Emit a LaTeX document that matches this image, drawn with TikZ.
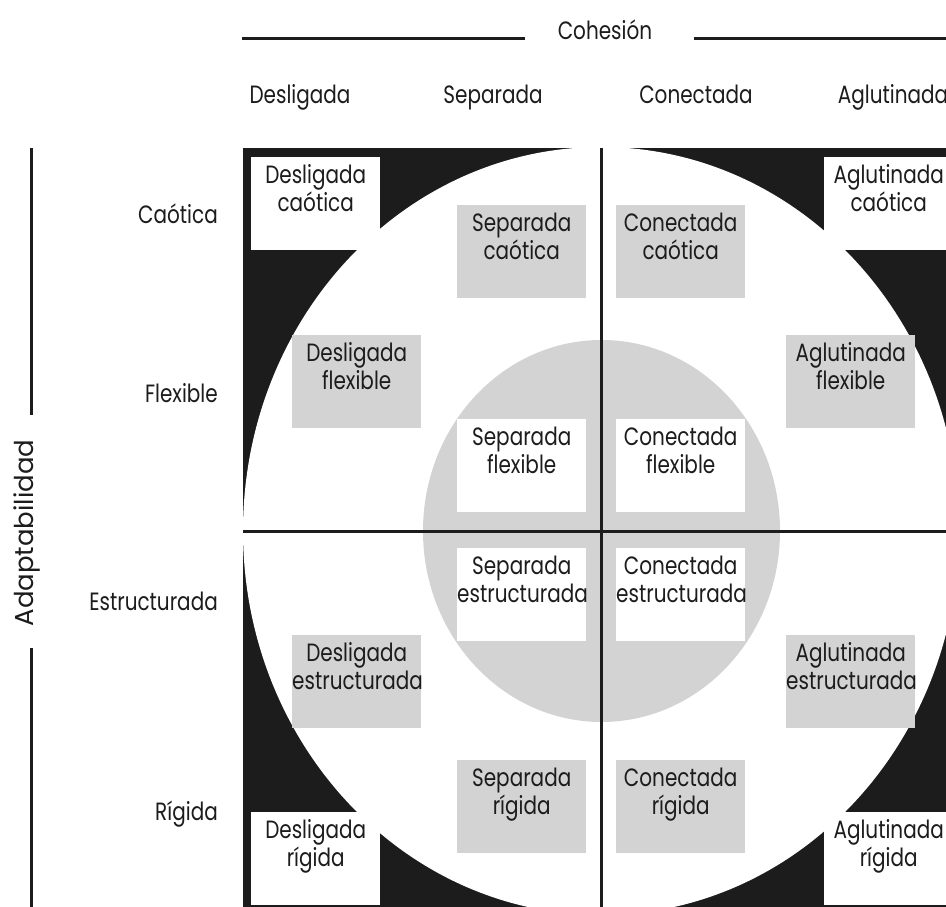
\documentclass[tikz,border=0pt]{standalone}
\usepackage{fontspec}
\setmainfont{Poppins}[FakeStretch=0.80]
\newfontfamily\widefont{Poppins}
\definecolor{ink}{RGB}{28,28,28}
\definecolor{boxgray}{RGB}{211,211,211}
\newcommand\celltext[1]{\parbox[c][93pt][t]{129pt}{\centering\rule{0pt}{26pt}#1}}
\begin{document}
\begin{tikzpicture}[x=1pt,y=-1pt,
  txt/.style={font=\fontsize{25}{28.5}\selectfont, text=ink, inner sep=0pt},
  cell/.style={txt, anchor=north west},
  graycell/.style={cell, fill=boxgray},
  whitecell/.style={cell, fill=white},
  rowlbl/.style={txt, anchor=base east},
  collbl/.style={txt, anchor=base},
  rule/.style={draw=ink, line width=3pt}]
\useasboundingbox (0,0) rectangle (946,907);
\clip (0,0) rectangle (946,907);
\fill[white] (0,0) rectangle (946,907);

% field
\fill[ink] (243,148) rectangle (959,915);
\fill[white] (601,531) ellipse [x radius=358, y radius=384];
\fill[boxgray] (601.5,531) ellipse [x radius=178.5, y radius=191];

% cross
\coordinate (vT) at (601,148);
\coordinate (vB) at (601,915);
\coordinate (hL) at (243,531);
\coordinate (hR) at (959,531);
\draw[rule] (vT) -- (vB);
\draw[rule] (hL) -- (hR);

% cells
\node[whitecell] (dc) at (251,157) {\celltext{Desligada\\caótica}};
\node[graycell]  (sc) at (457,205) {\celltext{Separada\\caótica}};
\node[graycell]  (cc) at (616,205) {\celltext{Conectada\\caótica}};
\node[whitecell] (ac) at (824,157) {\celltext{Aglutinada\\caótica}};

\node[graycell]  (df) at (292,335) {\celltext{Desligada\\flexible}};
\node[whitecell] (sf) at (457,419) {\celltext{Separada\\flexible}};
\node[whitecell] (cf) at (616,419) {\celltext{Conectada\\flexible}};
\node[graycell]  (af) at (786,335) {\celltext{Aglutinada\\flexible}};

\node[whitecell] (se) at (457,548) {\celltext{Separada\\estructurada}};
\node[whitecell] (ce) at (616,548) {\celltext{Conectada\\estructurada}};
\node[graycell]  (de) at (292,635) {\celltext{Desligada\\estructurada}};
\node[graycell]  (ae) at (786,635) {\celltext{Aglutinada\\estructurada}};

\node[graycell]  (sr) at (457,760) {\celltext{Separada\\rígida}};
\node[graycell]  (cr) at (616,760) {\celltext{Conectada\\rígida}};
\node[whitecell] (dr) at (251,812) {\celltext{Desligada\\rígida}};
\node[whitecell] (ar) at (824,812) {\celltext{Aglutinada\\rígida}};

% row labels
\node[rowlbl] (rc) at (218,223) {Caótica};
\node[rowlbl] (rf) at (218,402) {Flexible};
\node[rowlbl] (re) at (218,610) {Estructurada};
\node[rowlbl] (rr) at (218,820) {Rígida};

% column labels
\node[collbl] (kd) at (300,103) {Desligada};
\node[collbl] (ks) at (493,103) {Separada};
\node[collbl] (kc) at (696,103) {Conectada};
\node[collbl] (ka) at (893,103) {Aglutinada};

% axis titles
\node[collbl] (coh) at (605,40) {Cohesión};
\coordinate (cohL) at (242,39);
\coordinate (cohR) at (946,39);
\coordinate (cohLe) at (525,39);
\coordinate (cohRe) at (694,39);
\draw[rule] (cohL) -- (cohLe);
\draw[rule] (cohR) -- (cohRe);

\node[txt, font=\widefont\fontsize{26}{30}\selectfont, rotate=90, anchor=base] (ada) at (34,533) {Adaptabilidad};
\coordinate (adaT) at (31,148);
\coordinate (adaB) at (31,915);
\coordinate (adaTe) at (31,415);
\coordinate (adaBe) at (31,648);
\draw[rule] (adaT) -- (adaTe);
\draw[rule] (adaB) -- (adaBe);
\end{tikzpicture}
\end{document}
